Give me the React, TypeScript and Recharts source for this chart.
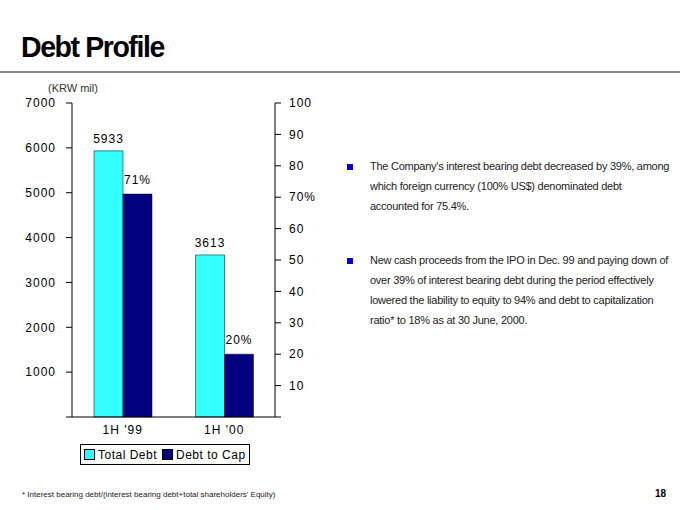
import { BarChart, Bar, XAxis, YAxis, LabelList } from 'recharts';

const categories = ["1H '99", "1H '00"];
const totalDebt = [5933, 3613];
const debtToCap = [71, 20];
const leftTicks = [0, 1000, 2000, 3000, 4000, 5000, 6000, 7000];
const rightTicks = [0, 10, 20, 30, 40, 50, 60, 70, 80, 90, 100];

const data = categories.map((c, i) => ({ name: c, debt: totalDebt[i], cap: debtToCap[i] }));

const font = 'Arial, "Liberation Sans", sans-serif';

const bodyText: React.CSSProperties = { position: 'absolute', left: 370, fontSize: 11, lineHeight: '20px', color: '#222', width: 300, letterSpacing: -0.25 };
const bullet = (top: number) => (
  <div style={{ position: 'absolute', left: 347, top, width: 6, height: 6, background: '#0000CC' }} />
);
const tickStyle = { fill: '#000', fontSize: 12, letterSpacing: 1 };

export default function App() {
  return (
    <div style={{ position: 'absolute', left: 0, top: 0, width: 680, height: 510, background: '#fff', fontFamily: font }}>
      <div style={{ position: 'absolute', left: 21, top: 30, fontSize: 30, fontWeight: 'bold', letterSpacing: -1.5, transform: 'scaleX(0.95)', transformOrigin: 'left' }}>Debt Profile</div>
      <div style={{ position: 'absolute', left: 0, top: 71, width: 680, height: 2, background: '#888' }} />
      <div style={{ position: 'absolute', left: 48, top: 82, fontSize: 11, color: '#333' }}>(KRW mil)</div>
      <BarChart width={680} height={510} data={data} margin={{ top: 103, right: 345, bottom: 73, left: 0 }} barCategoryGap={22} barGap={0}>
        <XAxis dataKey="name" height={20} tickLine={false} stroke="#000" tick={tickStyle} />
        <YAxis yAxisId="l" width={72} domain={[0, 7000]} ticks={leftTicks} stroke="#000" tickSize={6} tickMargin={10}
          tick={tickStyle} tickFormatter={(v: number) => (v === 0 ? '' : String(v))} />
        <YAxis yAxisId="r" orientation="right" width={60} domain={[0, 100]} ticks={rightTicks} stroke="#000" tickSize={6} tickMargin={8}
          tick={tickStyle}
          tickFormatter={(v: number) => (v === 0 ? '' : v === 70 ? '70%' : String(v))} />
        <Bar yAxisId="l" dataKey="debt" fill="#33FFFF" stroke="#000" strokeWidth={0.5} isAnimationActive={false}>
          <LabelList dataKey="debt" position="top" offset={8} style={tickStyle} />
        </Bar>
        <Bar yAxisId="r" dataKey="cap" fill="#000080" stroke="#000" strokeWidth={0.5} isAnimationActive={false}>
          <LabelList dataKey="cap" position="top" offset={10} formatter={(v: number) => `${v}%`} style={tickStyle} />
        </Bar>
      </BarChart>
      <div style={{ position: 'absolute', left: 80, top: 444, width: 168, height: 19, border: '1px solid #000', fontSize: 12, letterSpacing: 0.5, display: 'flex', alignItems: 'center' }}>
        <div style={{ width: 9, height: 9, background: '#33FFFF', border: '1px solid #000', marginLeft: 3, marginRight: 3 }} />
        <span>Total Debt</span>
        <div style={{ width: 9, height: 9, background: '#000080', border: '1px solid #000', marginLeft: 5, marginRight: 3 }} />
        <span>Debt to Cap</span>
      </div>
      {bullet(164)}
      <div style={{ ...bodyText, top: 156 }}>
        The Company's interest bearing debt decreased by 39%, among which foreign currency (100% US$) denominated debt accounted for 75.4%.
      </div>
      {bullet(258)}
      <div style={{ ...bodyText, top: 250 }}>
        New cash proceeds from the IPO in Dec. 99 and paying down of over 39% of interest bearing debt during the period effectively lowered the liability to equity to 94% and debt to capitalization ratio* to 18% as at 30 June, 2000.
      </div>
      <div style={{ position: 'absolute', left: 22, top: 490, fontSize: 8, color: '#222' }}>
        * Interest bearing debt/(interest bearing debt+total shareholders' Equity)
      </div>
      <div style={{ position: 'absolute', left: 655, top: 488, fontSize: 10, fontWeight: 'bold' }}>18</div>
    </div>
  );
}
